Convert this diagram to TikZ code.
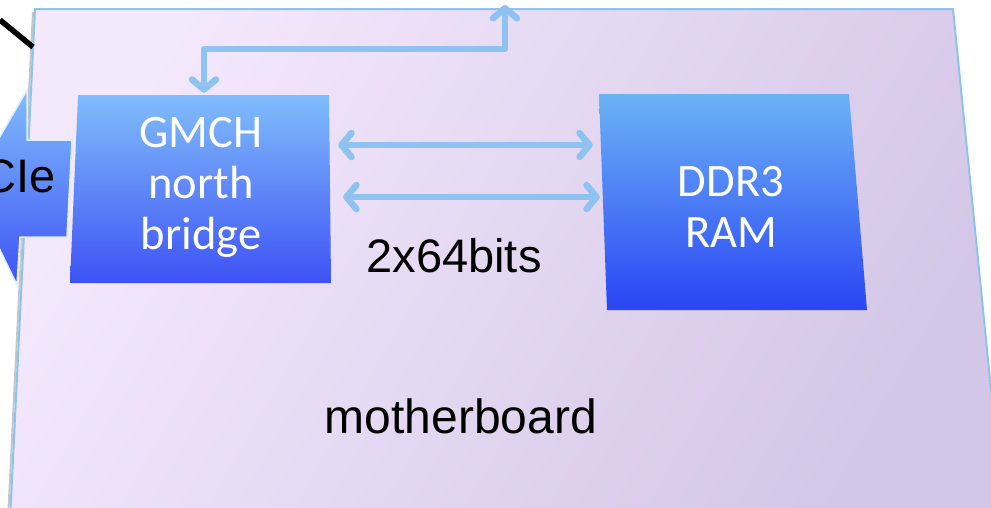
\documentclass[tikz,border=0pt]{standalone}
\usepackage{fontspec}
\setmainfont{Liberation Sans}
\newfontfamily\boxfont{Carlito}
\usetikzlibrary{arrows.meta}
\definecolor{boardA}{HTML}{F4E8FD}
\definecolor{boardB}{HTML}{D4C6E6}
\definecolor{edgeblue}{HTML}{8EC3F0}
\definecolor{arrblue}{HTML}{8DC2F1}
\definecolor{chipTop}{HTML}{80BDFB}
\definecolor{chipBot}{HTML}{3E52F5}
\definecolor{ramTop}{HTML}{6CB3F6}
\definecolor{ramBot}{HTML}{2A45F5}
\tikzset{
  boxanchor/.style={rectangle,inner sep=0pt,draw=none},
  chiptext/.style={text=white,align=center,font=\boxfont\fontsize{46.5}{51}\selectfont},
  blacktext/.style={text=black,font=\fontsize{47}{52}\selectfont},
  bus/.style={draw=arrblue,line width=6.5pt,line cap=round,line join=round,
    {Straight Barb[length=10pt,width=24pt,round]}-{Straight Barb[length=10pt,width=24pt,round]}}
}
\begin{document}
\begin{tikzpicture}[x=1pt,y=-1pt]
\useasboundingbox (0,0) rectangle (991,507);
\clip (0,0) rectangle (991,507);
% board shadow and board
\draw[gray!45,line width=2pt] (33,12) -- (8,520);
\path[left color=boardA,right color=boardB,shading angle=60,draw=edgeblue,line width=2pt]
  (35,9) -- (953,9) -- (1004,520) -- (10,520) -- cycle;
% black line
\coordinate (lineA) at (0,20);
\coordinate (lineB) at (33,47);
\draw[line width=5.5pt] (lineA) -- (lineB);
% PCIe block arrow
\path[top color=chipTop,bottom color=chipBot,draw=white!70!edgeblue,line width=1.5pt]
  (-30,188) -- (27,90) -- (27,140) -- (72,140) -- (67,237) -- (20,237) -- (17,285) -- cycle;
\node[blacktext,anchor=base east,inner sep=0pt] (pcie) at (56,192) {CIe};
% GMCH
\path[top color=chipTop,bottom color=chipBot]
  (78,95) -- (329,95) -- (331,283) -- (70,283) -- cycle;
\node[boxanchor,minimum width=258pt,minimum height=188pt] (gmch) at (200,189) {};
\node[chiptext] (gmchtxt) at (201,187) {GMCH\\north\\bridge};
% DDR3
\path[top color=ramTop,bottom color=ramBot]
  (599,94) -- (849,94) -- (867,310) -- (607,310) -- cycle;
\node[boxanchor,minimum width=260pt,minimum height=216pt] (ddr) at (733,202) {};
\node[chiptext] (ddrtxt) at (731,207) {DDR3\\RAM};
% buses
\draw[bus] ([xshift=9pt,yshift=44pt]gmch.east) -- ([xshift=-10pt,yshift=57pt]ddr.west);
\draw[bus] ([xshift=14pt,yshift=-8pt]gmch.east) -- ([xshift=-3pt,yshift=5pt]ddr.west);
\coordinate (busend) at (505,5);
\draw[bus] (busend) |- ([xshift=4pt,yshift=46pt]gmch.north) -- ([xshift=4pt,yshift=2pt]gmch.north);
% labels
\node[blacktext,anchor=base,inner sep=0pt] (width) at (454,272) {2x64bits};
\node[blacktext,font=\fontsize{48}{52}\selectfont,anchor=base,inner sep=0pt] (mb) at (461,433) {motherboard};
\end{tikzpicture}
\end{document}
